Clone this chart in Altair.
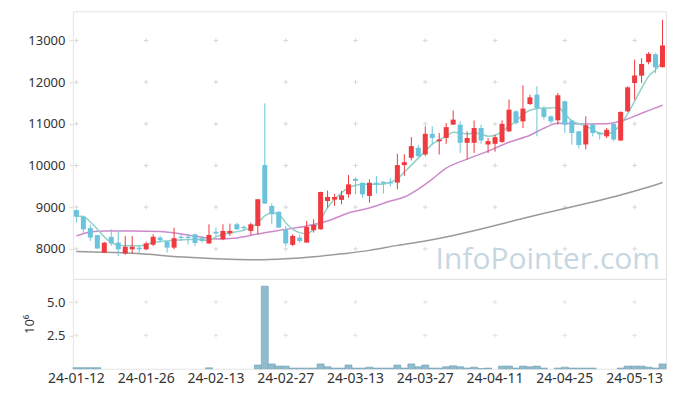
import altair as alt
import pandas as pd

dates = [
    "24-01-12", "24-01-15", "24-01-16", "24-01-17", "24-01-18", "24-01-19", "24-01-22", "24-01-23",
    "24-01-24", "24-01-25", "24-01-26", "24-01-29", "24-01-30", "24-01-31", "24-02-01", "24-02-02",
    "24-02-05", "24-02-06", "24-02-07", "24-02-08", "24-02-13", "24-02-14", "24-02-15", "24-02-16",
    "24-02-19", "24-02-20", "24-02-21", "24-02-22", "24-02-23", "24-02-26", "24-02-27", "24-02-28",
    "24-02-29", "24-03-04", "24-03-05", "24-03-06", "24-03-07", "24-03-08", "24-03-11", "24-03-12",
    "24-03-13", "24-03-14", "24-03-15", "24-03-18", "24-03-19", "24-03-20", "24-03-21", "24-03-22",
    "24-03-25", "24-03-26", "24-03-27", "24-03-28", "24-03-29", "24-04-01", "24-04-02", "24-04-03",
    "24-04-04", "24-04-05", "24-04-08", "24-04-09", "24-04-11", "24-04-12", "24-04-15", "24-04-16",
    "24-04-17", "24-04-18", "24-04-19", "24-04-22", "24-04-23", "24-04-24", "24-04-25", "24-04-26",
    "24-04-29", "24-04-30", "24-05-02", "24-05-03", "24-05-07", "24-05-08", "24-05-09", "24-05-10",
    "24-05-13", "24-05-14", "24-05-16", "24-05-17", "24-05-20",
]

opens = [8930, 8770, 8500, 8330, 7910, 8290, 8150, 7890, 7990, 8030,
         7990, 8100, 8270, 8175, 8030, 8290, 8290, 8350, 8256, 8130,
         8410, 8230, 8376, 8590, 8526, 8430, 8550, 10010, 9030, 8890,
         8470, 8096, 8270, 8150, 8447, 8470, 9150, 9180, 9175, 9310,
         9680, 9586, 9270, 9586, 9610, 9600, 9590, 10010, 10185, 10425,
         10265, 10760, 10580, 10660, 10980, 10980, 10545, 10545, 10900, 10505,
         10520, 10565, 10820, 11300, 11060, 11475, 11700, 11365, 11180, 11085,
         11540, 11080, 10820, 10505, 10980, 10780, 10700, 11000, 10600, 11300,
         11980, 12155, 12480, 12670, 12360]
highs = [8950, 8780, 8580, 8330, 8160, 8470, 8430, 8310, 8310, 8070,
         8170, 8350, 8310, 8190, 8510, 8350, 8350, 8360, 8310, 8590,
         8510, 8590, 8605, 8630, 8560, 8630, 9196, 11490, 9090, 8900,
         8550, 8350, 8335, 8670, 8710, 9370, 9400, 9320, 9390, 9770,
         9720, 9590, 9670, 9745, 9620, 9700, 10280, 10270, 10680, 10490,
         10940, 10940, 10780, 11020, 11320, 11060, 10820, 11080, 10980, 10660,
         10740, 11080, 11580, 11320, 11920, 11700, 11900, 11420, 11200, 11740,
         11560, 11100, 10830, 11180, 10990, 10800, 10900, 11010, 11300, 11900,
         12540, 12575, 12720, 12690, 13495]
lows = [8630, 8390, 8190, 7990, 7900, 8070, 7830, 7860, 7890, 7890,
        7980, 8070, 8150, 7910, 7990, 8190, 8110, 8070, 8150, 8120,
        8310, 8210, 8310, 8450, 8450, 8335, 8352, 9080, 8590, 8500,
        8070, 8070, 8150, 8150, 8390, 8460, 8990, 9030, 9070, 9230,
        9310, 9230, 9110, 9323, 9330, 9500, 9430, 9750, 10120, 10200,
        10225, 10500, 10265, 10520, 10980, 10300, 10145, 10300, 10520, 10300,
        10330, 10540, 10800, 10980, 10900, 11450, 10700, 11100, 11000, 10980,
        10780, 10500, 10410, 10385, 10700, 10625, 10660, 10580, 10590, 11285,
        11580, 11980, 12430, 12215, 12350]
closes = [8770, 8470, 8270, 8010, 8150, 8130, 7990, 8050, 8050, 7990,
          8130, 8290, 8210, 8030, 8256, 8260, 8260, 8140, 8190, 8335,
          8370, 8430, 8431, 8470, 8495, 8590, 9190, 9085, 8830, 8510,
          8130, 8311, 8190, 8526, 8574, 9365, 9245, 9245, 9285, 9548,
          9630, 9310, 9586, 9548, 9570, 9570, 10010, 10080, 10465, 10225,
          10760, 10660, 10625, 10920, 11100, 10545, 10660, 10900, 10600, 10585,
          10680, 11000, 11340, 11020, 11365, 11635, 11380, 11165, 11060, 11685,
          10980, 10780, 10490, 10965, 10780, 10745, 10855, 10625, 11285, 11875,
          12160, 12435, 12680, 12355, 12880]
volumes = [0.08, 0.08, 0.08, 0.08, 0, 0, 0, 0, 0, 0,
           0, 0, 0, 0, 0, 0, 0, 0, 0, 0.07,
           0, 0, 0, 0, 0, 0, 0.28, 6.2, 0.36, 0.2,
           0.2, 0.05, 0.05, 0.05, 0.05, 0.36, 0.15, 0.05, 0.05, 0.28,
           0.05, 0.05, 0.12, 0.05, 0.05, 0.05, 0.28, 0.05, 0.36, 0.15,
           0.28, 0.05, 0.05, 0.15, 0.22, 0.15, 0.05, 0.12, 0.01, 0.05,
           0, 0.2, 0.2, 0.05, 0.2, 0.15, 0.2, 0.05, 0, 0.05,
           0.12, 0.05, 0.05, 0.05, 0.05, 0, 0, 0, 0.05, 0.2,
           0.2, 0.2, 0.12, 0.05, 0.36]

ma5 = [8789, 8777, 8646, 8471, 8287, 8151, 8096, 8072, 8072, 8072,
       8108, 8151, 8179, 8191, 8208, 8215, 8222, 8232, 8215, 8208,
       8287, 8352, 8376, 8414, 8447, 8510, 8629, 8789, 8868, 8830,
       8629, 8471, 8390, 8366, 8471, 8710, 8988, 9189, 9347, 9466,
       9524, 9548, 9548, 9548, 9555, 9603, 9674, 9842, 10009, 10177,
       10344, 10512, 10607, 10703, 10799, 10782, 10758, 10782, 10758, 10703,
       10727, 10823, 10942, 11062, 11222, 11325, 11366, 11380, 11380, 11397,
       11241, 11074, 11002, 10954, 10858, 10775, 10763, 10823, 10983, 11241,
       11540, 11858, 12138, 12299, 12497]

ma20_idx = [0, 2, 4, 8, 12, 16, 20, 23, 26, 29, 33, 36, 39, 42, 45, 47, 49, 51, 53,
            56, 59, 62, 65, 67, 69, 72, 76, 78, 81, 84]
ma20 = [8311, 8407, 8431, 8431, 8419, 8335, 8239, 8263, 8359, 8443, 8550, 8670, 8861,
        8981, 9148, 9244, 9435, 9674, 9938, 10153, 10344, 10559, 10727, 10894, 11014,
        10997, 11002, 11062, 11253, 11444]

ma60_idx = [0, 8, 16, 22, 26, 30, 34, 38, 42, 46, 50, 54, 58, 62, 66, 70, 74, 78, 82, 84]
ma60 = [7935, 7892, 7797, 7749, 7737, 7761, 7809, 7880, 7964, 8084, 8191, 8323, 8478,
        8646, 8813, 8969, 9124, 9292, 9483, 9591]

label_idx = [0, 10, 20, 30, 40, 50, 60, 70, 80]
price_ticks = [8000, 9000, 10000, 11000, 12000, 13000]
vol_ticks = [2.5, 5.0]

FONT = "Noto Sans"
RED = "#ef3b3f"
BLUE = "#6cc4dc"

df = pd.DataFrame({"date": dates, "open": opens, "high": highs, "low": lows,
                   "close": closes, "volume": volumes, "ma5": ma5})
ma20_df = pd.DataFrame({"date": [dates[i] for i in ma20_idx], "v": ma20})
ma60_df = pd.DataFrame({"date": [dates[i] for i in ma60_idx], "v": ma60})
x_labels = [dates[i] for i in label_idx]
cross_top = pd.DataFrame([{"date": d, "v": t} for d in x_labels for t in price_ticks])
cross_vol = pd.DataFrame([{"date": d, "v": t} for d in x_labels for t in vol_ticks])

xscale = alt.Scale(domain=dates, paddingInner=0, paddingOuter=0)
X = alt.X("date:O", scale=xscale, axis=None, title=None)
yscale = alt.Scale(domain=[7280, 13700], nice=False, zero=False)
yaxis = alt.Axis(values=price_ticks, grid=False, domain=False, ticks=True, tickSize=4,
                 tickColor="#dddddd", labelFontSize=13, labelFont=FONT, labelColor="#333333",
                 labelPadding=4, format="d")
color_cond = alt.condition("datum.close >= datum.open", alt.value(RED), alt.value(BLUE))

base = alt.Chart(df)
cross_shape = "M-1,0L1,0M0,-1L0,1"

crosses = alt.Chart(cross_top).mark_point(shape=cross_shape, size=20, stroke="#d8d8d8",
                                           strokeWidth=1, filled=False, opacity=1).encode(
    x=X, y=alt.Y("v:Q", scale=yscale, axis=yaxis, title=None))

wicks = base.mark_rule(strokeWidth=1).encode(
    x=X, y=alt.Y("low:Q", scale=yscale, title=None), y2="high:Q", color=color_cond)
bodies = base.mark_bar(width=alt.RelativeBandSize(0.72)).encode(
    x=X, y=alt.Y("open:Q", scale=yscale, title=None), y2="close:Q", color=color_cond)

line_ma60 = alt.Chart(ma60_df).mark_line(color="#9a9a9a", strokeWidth=1.5,
                                         interpolate="monotone").encode(
    x=X, y=alt.Y("v:Q", scale=yscale, title=None))
line_ma20 = alt.Chart(ma20_df).mark_line(color="#cc8acb", strokeWidth=1.5,
                                         interpolate="monotone").encode(
    x=X, y=alt.Y("v:Q", scale=yscale, title=None))
line_ma5 = base.mark_line(color="#8fd1c8", strokeWidth=1.5, interpolate="monotone").encode(
    x=X, y=alt.Y("ma5:Q", scale=yscale, title=None))

watermark = alt.Chart(pd.DataFrame({"t": ["InfoPointer.com"]})).mark_text(
    align="right", baseline="alphabetic", fontSize=30, font="Open Sans",
    color="#c6d7e2").encode(x=alt.value(588), y=alt.value(258), text="t:N")

top = alt.layer(crosses, line_ma60, line_ma20, line_ma5, wicks, bodies, watermark).properties(
    width=594, height=268)

vscale = alt.Scale(domain=[0, 6.75], nice=False)
vaxis = alt.Axis(values=vol_ticks, grid=False, domain=False, ticks=True, tickSize=4,
                 tickColor="#dddddd", labelFontSize=13, labelFont=FONT, labelColor="#333333",
                 labelPadding=4, format=".1f", title="10⁶", titleFont=FONT, titleFontSize=13,
                 titleFontWeight="normal", titleColor="#333333", titlePadding=10)
xaxis = alt.Axis(values=x_labels, labelAngle=0, ticks=False, domain=False, grid=False,
                 labelFontSize=14, labelFont=FONT, labelColor="#333333", labelPadding=3)

vol_cross = alt.Chart(cross_vol).mark_point(shape=cross_shape, size=20, stroke="#d8d8d8",
                                             strokeWidth=1, filled=False).encode(
    x=alt.X("date:O", scale=xscale, axis=xaxis, title=None),
    y=alt.Y("v:Q", scale=vscale, axis=vaxis))
vol_bars = base.transform_filter("datum.volume > 0").mark_bar(
    width=alt.RelativeBandSize(1.0), color="#8fbccd", stroke="#6f9fb5", strokeWidth=0.6).encode(
    x=alt.X("date:O", scale=xscale, axis=xaxis, title=None),
    y=alt.Y("volume:Q", scale=vscale, axis=vaxis))

bottom = alt.layer(vol_cross, vol_bars).properties(width=594, height=90)

chart = alt.vconcat(top, bottom, spacing=0, bounds="flush").properties(
    padding={"left": 15, "top": 2, "right": 2, "bottom": 0},
    background="white",
).configure_view(stroke="#e4e4e4", strokeWidth=1)

chart.save("out.html", embed_options={"renderer": "svg", "actions": False})
